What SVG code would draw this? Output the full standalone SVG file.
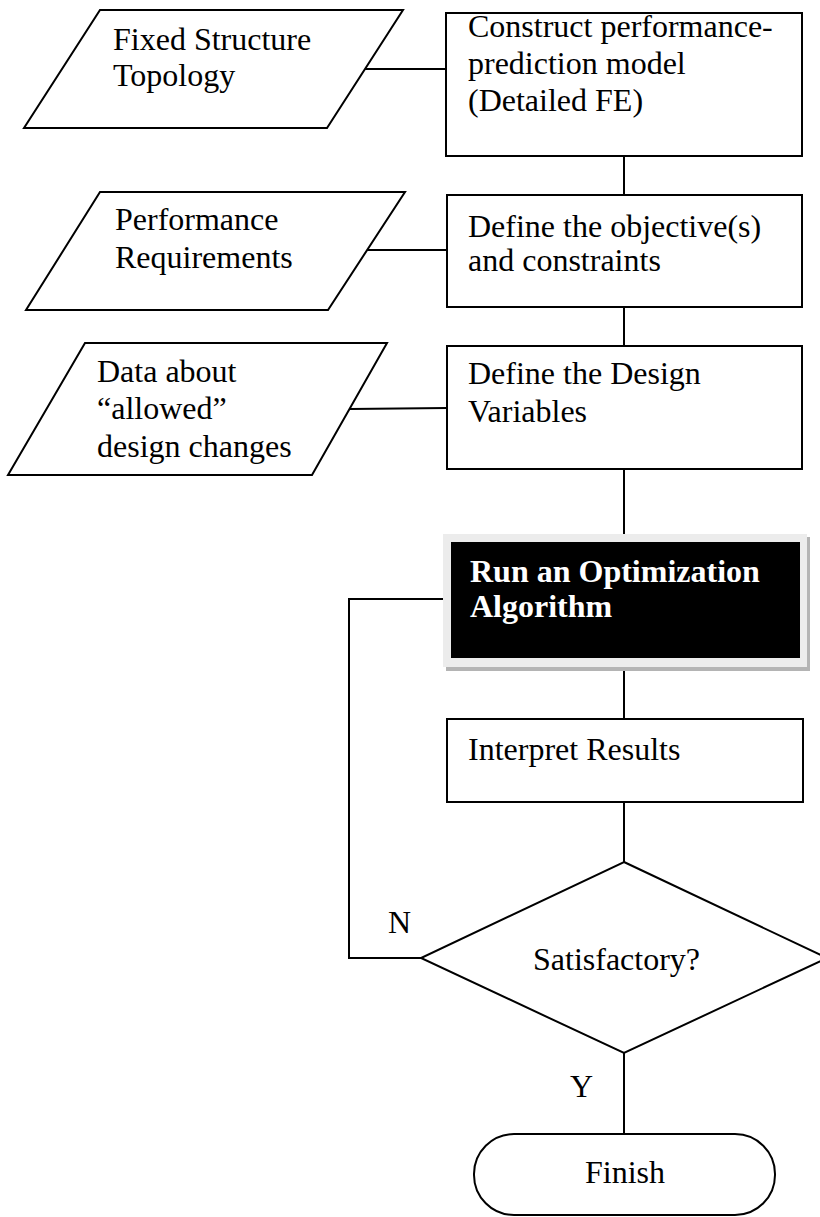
<svg xmlns="http://www.w3.org/2000/svg" width="820" height="1217" viewBox="0 0 820 1217">
  <style>
    .shape { fill: #ffffff; stroke: #000000; stroke-width: 2; }
    .wire { fill: none; stroke: #000000; stroke-width: 2; }
    .label { font-family: "Liberation Serif", "Times New Roman", serif; font-size: 32px; fill: #000000; }
    .bold { font-weight: bold; fill: #ffffff; }
  </style>
  <rect width="820" height="1217" fill="#ffffff"/>

  <!-- connectors -->
  <g id="connectors">
    <line class="wire" x1="365" y1="69" x2="446" y2="69"/>
    <line class="wire" x1="367" y1="250" x2="447" y2="250"/>
    <line class="wire" x1="350" y1="409" x2="447" y2="408"/>
    <line class="wire" x1="624" y1="156" x2="624" y2="195"/>
    <line class="wire" x1="624" y1="307" x2="624" y2="346"/>
    <line class="wire" x1="624" y1="469" x2="624" y2="536"/>
    <line class="wire" x1="624" y1="667" x2="624" y2="719"/>
    <line class="wire" x1="624" y1="802" x2="624" y2="862"/>
    <line class="wire" x1="624" y1="1053" x2="624" y2="1134"/>
    <polyline class="wire" points="443,599 349,599 349,958 421,958"/>
  </g>

  <!-- inputs -->
  <g id="fixed-topology">
    <polygon class="shape" points="100,10 403,10 327,128 24,128"/>
    <text class="label" x="113" y="50">Fixed Structure</text>
    <text class="label" x="113" y="86">Topology</text>
  </g>
  <g id="performance-requirements">
    <polygon class="shape" points="100,192 405,192 328,310 26,310"/>
    <text class="label" x="115" y="230">Performance</text>
    <text class="label" x="115" y="268">Requirements</text>
  </g>
  <g id="allowed-changes">
    <polygon class="shape" points="85,343 387,343 312,475 8,475"/>
    <text class="label" x="97" y="382">Data about</text>
    <text class="label" x="97" y="419">“allowed”</text>
    <text class="label" x="97" y="457">design changes</text>
  </g>

  <!-- process steps -->
  <g id="build-model">
    <rect class="shape" x="446" y="13" width="356" height="143"/>
    <text class="label" x="468" y="37">Construct performance-</text>
    <text class="label" x="468" y="74">prediction model</text>
    <text class="label" x="468" y="111">(Detailed FE)</text>
  </g>
  <g id="define-objectives">
    <rect class="shape" x="447" y="195" width="355" height="112"/>
    <text class="label" x="468" y="237">Define the objective(s)</text>
    <text class="label" x="468" y="271">and constraints</text>
  </g>
  <g id="define-variables">
    <rect class="shape" x="447" y="346" width="355" height="123"/>
    <text class="label" x="468" y="384">Define the Design</text>
    <text class="label" x="468" y="422">Variables</text>
  </g>
  <g id="run-optimizer">
    <rect x="446" y="537" width="364" height="134" fill="#b4b4b4"/>
    <rect x="443" y="534" width="364" height="133" fill="#ececec"/>
    <rect x="451" y="542" width="349" height="116" fill="#000000"/>
    <text class="label bold" x="470" y="582">Run an Optimization</text>
    <text class="label bold" x="470" y="617">Algorithm</text>
  </g>
  <g id="interpret">
    <rect class="shape" x="447" y="719" width="356" height="83"/>
    <text class="label" x="468" y="760">Interpret Results</text>
  </g>
  <g id="decision">
    <polygon class="shape" points="624,862 827,958 624,1053 421,958"/>
    <text class="label" x="533" y="970">Satisfactory?</text>
  </g>
  <g id="finish">
    <rect class="shape" x="474" y="1134" width="301" height="81" rx="40" ry="40"/>
    <text class="label" x="585" y="1183">Finish</text>
  </g>

  <!-- branch labels -->
  <text class="label" x="388" y="933">N</text>
  <text class="label" x="570" y="1097">Y</text>
</svg>
